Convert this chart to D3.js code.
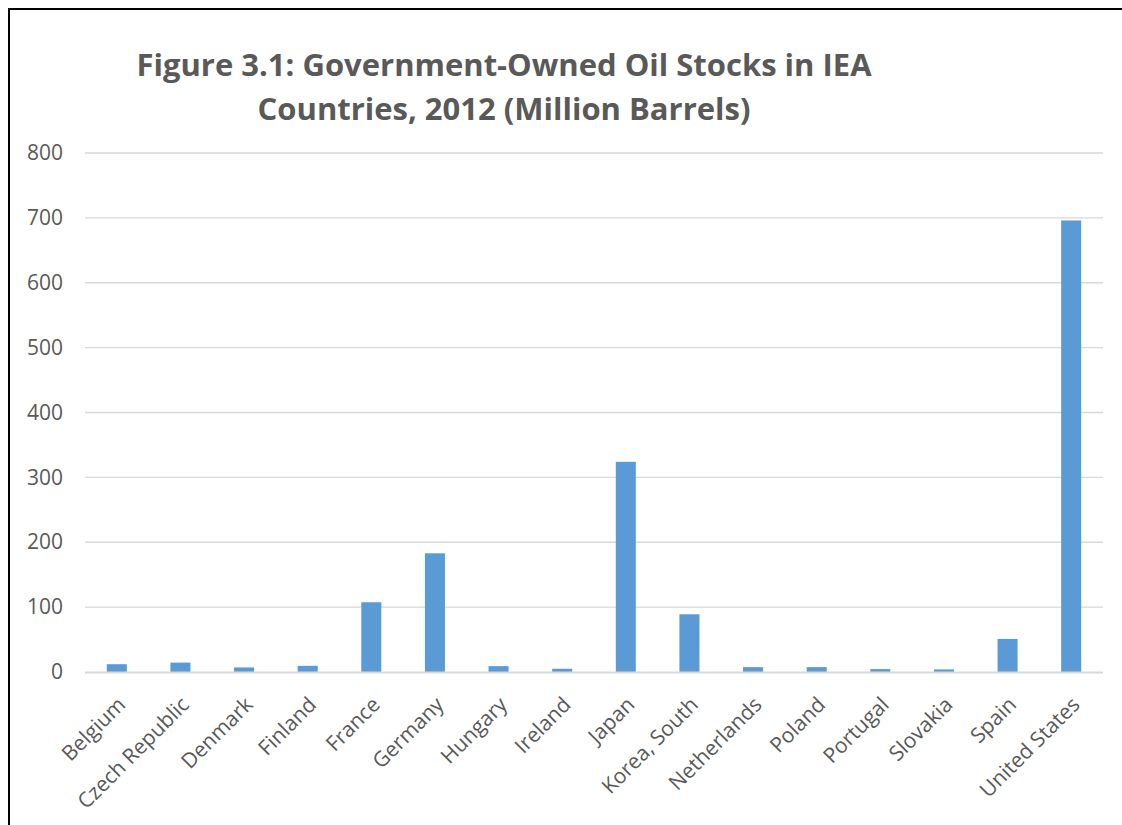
<!DOCTYPE html>
<html>
<head>
<meta charset="utf-8">
<script src="https://cdn.jsdelivr.net/npm/d3@7"></script>
<style>
  body { margin: 0; background: #fff; }
  svg { font-family: "Open Sans", sans-serif; }
</style>
</head>
<body>
<div id="chart"></div>
<script>
// Government-owned oil stocks, million barrels
const countries = ["Belgium", "Czech Republic", "Denmark", "Finland", "France", "Germany",
  "Hungary", "Ireland", "Japan", "Korea, South", "Netherlands", "Poland",
  "Portugal", "Slovakia", "Spain", "United States"];
const stocks = [12, 14.5, 7, 9.5, 107.5, 183, 9, 5, 324, 89, 7.5, 7.5, 4.5, 4, 51, 696];
const yTicks = [0, 100, 200, 300, 400, 500, 600, 700, 800];
const titleLines = ["Figure 3.1: Government-Owned Oil Stocks in IEA", "Countries, 2012 (Million Barrels)"];

const width = 1122, height = 825;
const margin = {top: 153, left: 85, right: 19, bottom: 153};

const svg = d3.select("#chart").append("svg")
    .attr("width", width)
    .attr("height", height);

// frame (top and left edges visible in the picture)
svg.append("path")
    .attr("d", `M9,${height} V9 H${width}`)
    .attr("fill", "none")
    .attr("stroke", "#000")
    .attr("stroke-width", 2);

const x = d3.scaleBand()
    .domain(countries)
    .range([margin.left, width - margin.right])
    .paddingInner(0.685)
    .paddingOuter(0.3425);

const y = d3.scaleLinear()
    .domain([0, 800])
    .range([672, margin.top]);

// gridlines
svg.append("g")
    .selectAll("line")
    .data(yTicks.slice(1))
    .enter().append("line")
    .attr("x1", margin.left)
    .attr("x2", width - margin.right)
    .attr("y1", d => y(d))
    .attr("y2", d => y(d))
    .attr("stroke", "#d9d9d9")
    .attr("stroke-width", 1.3);

// y axis labels
const yAxis = svg.append("g")
    .attr("transform", `translate(${margin.left - 22},0)`)
    .call(d3.axisLeft(y).tickValues(yTicks).tickSize(0).tickPadding(0));
yAxis.select(".domain").remove();
yAxis.selectAll("text")
    .attr("font-size", 21)
    .attr("font-family", "Open Sans, sans-serif")
    .attr("fill", "#595959");

// bars
svg.append("g")
    .selectAll("rect")
    .data(stocks)
    .enter().append("rect")
    .attr("x", (d, i) => x(countries[i]))
    .attr("width", x.bandwidth())
    .attr("y", d => y(d))
    .attr("height", d => y(0) - y(d))
    .attr("fill", "#5b9bd5");

// baseline
svg.append("line")
    .attr("x1", margin.left)
    .attr("x2", width - margin.right)
    .attr("y1", y(0) + 0.5)
    .attr("y2", y(0) + 0.5)
    .attr("stroke", "#d9d9d9")
    .attr("stroke-width", 2);

// x labels, rotated
svg.append("g")
    .selectAll("text")
    .data(countries)
    .enter().append("text")
    .attr("transform", d => `translate(${x(d) + x.bandwidth() / 2 + 10},706) rotate(-45)`)
    .attr("text-anchor", "end")
    .attr("font-size", 21)
    .attr("fill", "#595959")
    .text(d => d);

// title
svg.append("g")
    .selectAll("text")
    .data(titleLines)
    .enter().append("text")
    .attr("x", 504)
    .attr("y", (d, i) => 76 + i * 44)
    .attr("text-anchor", "middle")
    .attr("font-size", 31)
    .attr("font-weight", "bold")
    .attr("fill", "#595959")
    .text(d => d);
</script>
</body>
</html>
